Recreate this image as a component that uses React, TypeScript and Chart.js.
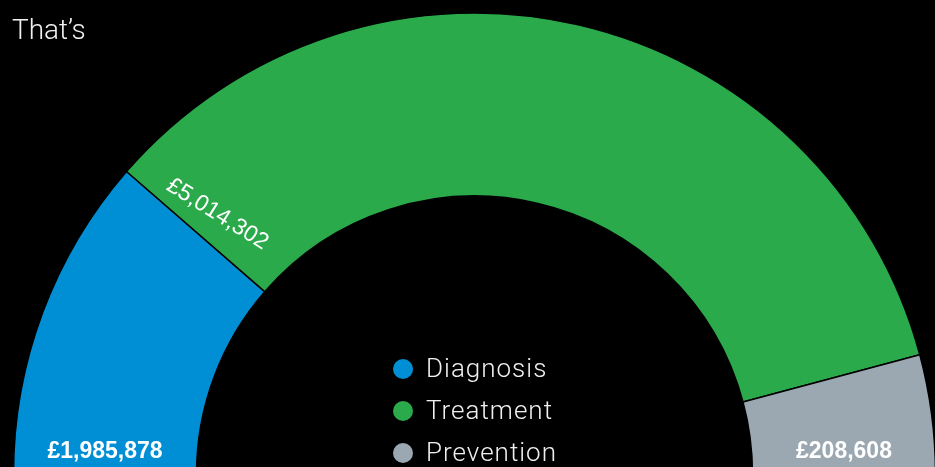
import React, { useEffect, useRef } from "react";
import { Chart, registerables } from "chart.js";

Chart.register(...registerables);

const categories = ["Diagnosis", "Treatment", "Prevention"];
const amounts = [1985878, 5014302, 208608];
// share of the half ring as drawn in the picture (degrees of the 180° arc)
const sliceDegrees = [41, 124, 15];
const colors = ["#008fd5", "#2baa4b", "#9ba8b1"];
const titleText = "That’s";

const fmt = (v: number) => "£" + v.toLocaleString("en-GB");

const overlayPlugin = {
  id: "overlay",
  beforeDraw(chart: any) {
    const { ctx, width, height } = chart;
    ctx.save();
    ctx.fillStyle = "#000";
    ctx.fillRect(0, 0, width, height);
    ctx.restore();
  },
  afterDatasetsDraw(chart: any) {
    const { ctx } = chart;
    const arcs = chart.getDatasetMeta(0).data;
    ctx.save();
    ctx.fillStyle = "#ffffff";
    // bottom labels for first and last slices
    [0, 2].forEach((i) => {
      const a = arcs[i];
      const mid = (a.innerRadius + a.outerRadius) / 2;
      const x = i === 0 ? a.x - mid : a.x + mid;
      ctx.font = "bold 23px 'Liberation Sans', Arial, sans-serif";
      ctx.textAlign = "center";
      ctx.textBaseline = "alphabetic";
      ctx.fillText(fmt(amounts[i]), x, a.y - 16);
    });
    // rotated label along the boundary for the middle slice
    const g = arcs[1];
    const ang = g.startAngle + (4.3 * Math.PI) / 180;
    const r = (g.innerRadius + g.outerRadius) / 2 - 4;
    const lx = g.x + r * Math.cos(ang);
    const ly = g.y + r * Math.sin(ang);
    ctx.translate(lx, ly);
    ctx.rotate(g.startAngle + Math.PI - (9 * Math.PI) / 180);
    ctx.font = "23px 'Liberation Sans', Arial, sans-serif";
    ctx.textAlign = "center";
    ctx.textBaseline = "middle";
    ctx.fillText(fmt(amounts[1]), 0, 0);
    ctx.restore();

    // legend in the hole
    ctx.save();
    categories.forEach((c, i) => {
      const y = 369 + i * 42;
      ctx.beginPath();
      ctx.fillStyle = colors[i];
      ctx.arc(403, y, 10, 0, Math.PI * 2);
      ctx.fill();
      ctx.fillStyle = "#f0f0f0";
      ctx.font = "300 26px Roboto, 'Liberation Sans', sans-serif";
      (ctx as any).letterSpacing = "1px";
      ctx.textAlign = "left";
      ctx.textBaseline = "middle";
      ctx.fillText(c, 426, y + 1);
    });
    (ctx as any).letterSpacing = "0px";
    // title
    ctx.fillStyle = "#f0f0f0";
    ctx.font = "300 28px Roboto, 'Liberation Sans', sans-serif";
    ctx.textAlign = "left";
    ctx.textBaseline = "alphabetic";
    ctx.fillText(titleText, 12, 39);
    ctx.restore();
  },
};

export default function App() {
  const ref = useRef<HTMLCanvasElement | null>(null);
  useEffect(() => {
    if (!ref.current) return;
    const chart = new Chart(ref.current, {
      type: "doughnut",
      data: {
        labels: categories,
        datasets: [
          {
            data: sliceDegrees,
            backgroundColor: colors,
            borderColor: "#000",
            borderWidth: 1.5,
          },
        ],
      },
      options: {
        animation: false,
        responsive: false,
        maintainAspectRatio: false,
        rotation: -90,
        circumference: 180,
        radius: 461,
        cutout: "60.3%",
        layout: { padding: { left: 14, right: 0, top: 13, bottom: 6 } },
        plugins: {
          legend: { display: false },
          tooltip: { enabled: false },
          title: { display: false },
        },
      },
      plugins: [overlayPlugin],
    });
    return () => chart.destroy();
  }, []);
  return (
    <div
      style={{
        position: "fixed",
        left: 0,
        top: 0,
        width: 935,
        height: 467,
        overflow: "hidden",
        background: "#000",
      }}
    >
      <canvas ref={ref} width={935} height={480} style={{ display: "block" }} />
    </div>
  );
}
